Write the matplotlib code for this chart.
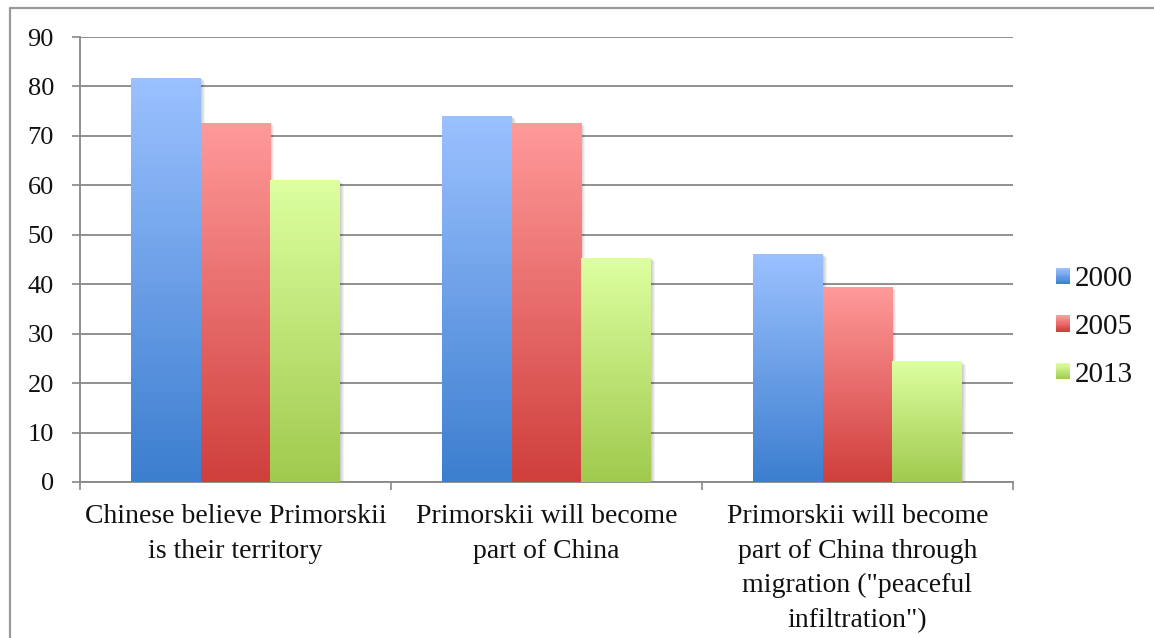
import numpy as np
import matplotlib
matplotlib.use('Agg')
import matplotlib.pyplot as plt
from matplotlib.colors import LinearSegmentedColormap
from matplotlib.patches import Rectangle
from matplotlib.legend_handler import HandlerBase
from matplotlib.lines import Line2D
import matplotlib.transforms as mtransforms

categories = [
    "Chinese believe Primorskii\nis their territory",
    "Primorskii will become\npart of China",
    "Primorskii will become\npart of China through\nmigration (\"peaceful\ninfiltration\")",
]
years = ['2000', '2005', '2013']
values_2000 = [81.7, 74.0, 46.1]
values_2005 = [72.6, 72.6, 39.4]
values_2013 = [60.9, 45.3, 24.3]
yticks = list(range(0, 100, 10))

top_colors = ['#9BC1FF', '#FF9A9A', '#DDFFA0']
bottom_colors = ['#3C7ECF', '#CF3F3C', '#A0CA4E']

plt.rcParams['font.family'] = ['Liberation Serif', 'DejaVu Serif']
FS = 19
XFS = 20
LFS = 21
W, H = 1154, 638
fig = plt.figure(figsize=(W / 100, H / 100), dpi=100)
ax = fig.add_axes([80 / W, 1 - 482 / H, (1013 - 80) / W, (482 - 37) / H])

x = np.arange(len(categories))
width = 0.223
series = [values_2000, values_2005, values_2013]
grad = np.linspace(0, 1, 256).reshape(-1, 1)
cmaps = [LinearSegmentedColormap.from_list(f'g{i}', [bottom_colors[i], top_colors[i]])
         for i in range(3)]

for i, vals in enumerate(series):
    bars = ax.bar(x + (i - 1) * width, vals, width, color='none',
                  edgecolor='none', zorder=3)
    for b in bars:
        x0, y0 = b.get_x(), b.get_y()
        w, h = b.get_width(), b.get_height()
        # soft shadow
        for k in range(1, 5):
            off = mtransforms.ScaledTranslation(k * 0.72 / 72, -k * 0.5 / 72,
                                                fig.dpi_scale_trans)
            ax.add_patch(Rectangle((x0, y0), w, h, facecolor='black',
                                   edgecolor='none', alpha=0.05,
                                   transform=ax.transData + off, zorder=2.5))
        ax.imshow(grad, extent=(x0, x0 + w, y0, y0 + h), origin='lower',
                  aspect='auto', cmap=cmaps[i], zorder=3,
                  interpolation='bilinear')

ax.set_xlim(-0.5, len(categories) - 0.5)
ax.set_ylim(0, 90)
ax.set_yticks(yticks)
ax.set_yticklabels([str(v) for v in yticks])

ax.set_xticks(np.arange(len(categories) + 1) - 0.5)
ax.set_xticklabels([])
ax.set_xticks(x, minor=True)
ax.set_xticklabels(categories, minor=True, fontsize=XFS, linespacing=1.5,
                   color='#111111')

grid_c = '#888888'
ax.yaxis.grid(True, color=grid_c, linewidth=1.3)
ax.set_axisbelow(True)
for s in ['top', 'right']:
    ax.spines[s].set_visible(False)
for s in ['left', 'bottom']:
    ax.spines[s].set_color(grid_c)
    ax.spines[s].set_linewidth(1.3)

ax.tick_params(axis='y', length=5.8, width=1.2, color=grid_c, pad=13,
               labelsize=FS, labelcolor='#111111')
ax.tick_params(axis='x', which='major', length=5.8, width=1.2, color=grid_c)
ax.tick_params(axis='x', which='minor', length=0, pad=16)


class GradHandler(HandlerBase):
    def __init__(self, cmap):
        super().__init__()
        self.cmap = cmap

    def create_artists(self, legend, orig_handle, xdescent, ydescent, width,
                       height, fontsize, trans):
        n = 14
        arts = []
        for k in range(n):
            arts.append(Rectangle((-xdescent, -ydescent + height * k / n), width,
                                  height / n * 1.05,
                                  facecolor=self.cmap(k / (n - 1)),
                                  edgecolor='none', transform=trans))
        return arts


handles = [Rectangle((0, 0), 1, 1) for _ in years]
hmap = {h: GradHandler(cmaps[i]) for i, h in enumerate(handles)}
fig.legend(handles, years, handler_map=hmap, loc='center left',
           bbox_to_anchor=(1056 / W, 1 - 327 / H), frameon=False, fontsize=LFS,
           handlelength=0.48, handleheight=0.48, handletextpad=0.18,
           labelspacing=0.74, borderpad=0, borderaxespad=0,
           labelcolor='#111111')

# outer chart border (top and left visible)
fig.add_artist(Line2D([9.5 / W, 9.5 / W, 1], [0, 1 - 7.5 / H, 1 - 7.5 / H],
                      transform=fig.transFigure, color='#999999', linewidth=1.6))

fig.savefig('out.png', dpi=100)
